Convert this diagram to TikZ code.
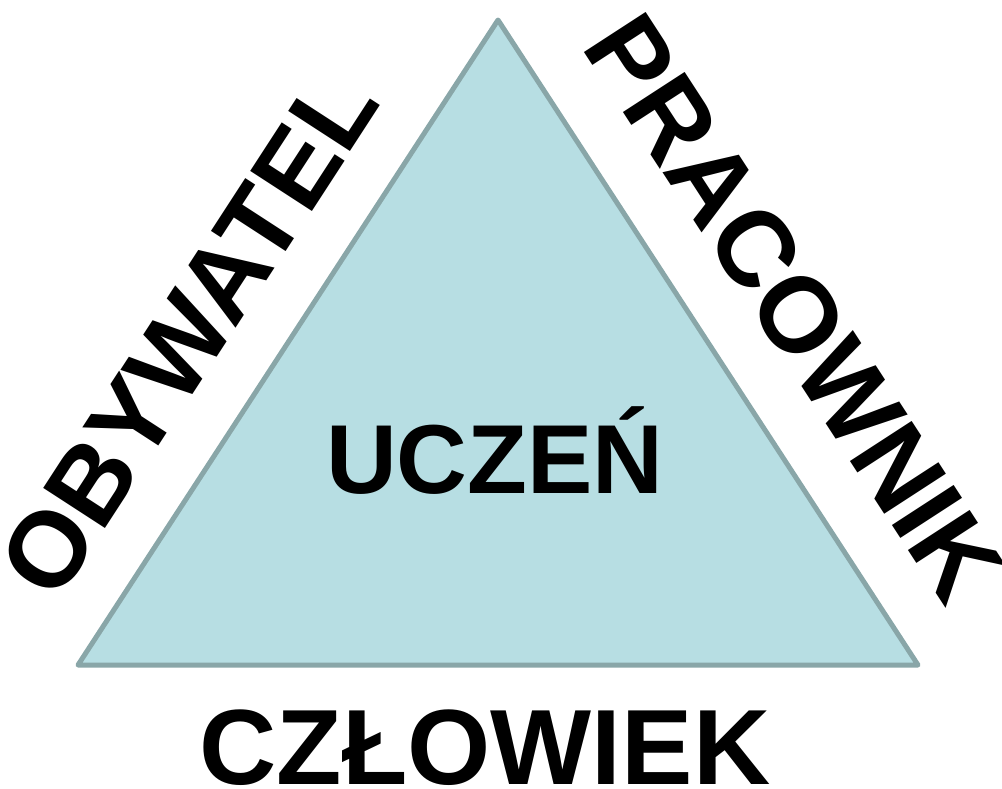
\documentclass[tikz,border=0pt]{standalone}
\usepackage{fontspec}
\setmainfont{Liberation Sans}
\definecolor{trifill}{RGB}{183,222,227}
\definecolor{triline}{RGB}{137,166,168}
\begin{document}
\begin{tikzpicture}[x=1pt,y=-1pt,
  bigtxt/.style={font=\fontsize{107}{107}\selectfont\bfseries, inner sep=0pt, anchor=base},
  midtxt/.style={font=\fontsize{98}{98}\selectfont\bfseries, inner sep=0pt, anchor=base}]
\useasboundingbox (0,0) rectangle (1002,788);
\coordinate (top) at (498,20);
\coordinate (bl) at (78,665);
\coordinate (br) at (918,665);
\filldraw[fill=trifill, draw=triline, line width=5pt, line join=round] (top) -- (bl) -- (br) -- cycle;
\node[midtxt] (uczen) at (495,493) {UCZEŃ};
\node[bigtxt] (czlowiek) at (485,784) {CZŁOWIEK};
\node[bigtxt, rotate=57] (obywatel) at (219.5,353.6) {OBYWATEL};
\node[bigtxt, rotate=-57] (pracownik) at (763.5,328) {PRACOWNIK};
\end{tikzpicture}
\end{document}
